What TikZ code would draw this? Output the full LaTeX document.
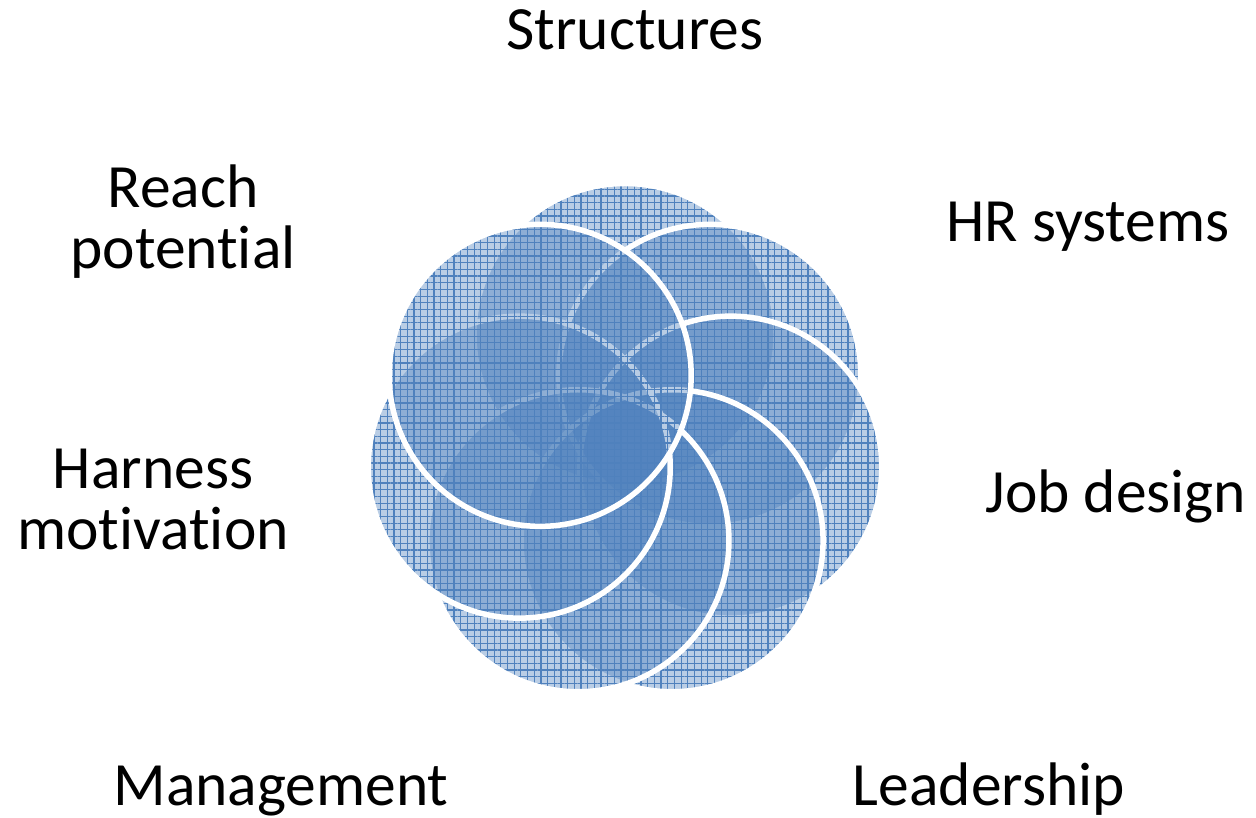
\documentclass[tikz,border=0pt]{standalone}
\usepackage{fontspec}
\setmainfont[Ligatures={NoCommon}]{Carlito}
\usetikzlibrary{calc}
\usetikzlibrary{patterns.meta}
\definecolor{petalblue}{RGB}{79,129,189}

\begin{document}
\begin{tikzpicture}[
    petal/.style={circle, minimum size=3.02cm, inner sep=0pt,
        draw=white, line width=0.055cm,
        preaction={fill=petalblue, fill opacity=0.4},
        pattern={Hatch[angle=0,distance=1.9pt,line width=0.35pt]},
        pattern color=petalblue, fill opacity=0.45},
    petaltext/.style={font=\fontsize{17.5pt}{17.6pt}\selectfont, align=center, anchor=base}
]
    \useasboundingbox (0,0) rectangle (12.56,8.17);

    % Centre of the flower
    \coordinate (hub) at (6.25,3.74);

    % Seven overlapping circles, clockwise from the top
    \foreach \ang/\name in {90/structures, 38.57/hr, -12.86/job, -64.29/lead,
                            -115.71/manage, -167.14/harness, 141.43/reach} {
        \node[petal] (c-\name) at ($(hub)+(\ang:1.085)$) {};
    }

    % Labels round the flower
    \node[petaltext] (t-structures) at (6.35,7.67) {Structures};
    \node[petaltext] (t-hr) at (10.88,5.75) {HR systems};
    \node[petaltext] (t-job) at (11.16,3.04) {Job design};
    \node[petaltext] (t-lead) at (9.89,0.12) {Leadership};
    \node[petaltext] (t-manage) at (2.81,0.12) {Management};
    \node[petaltext] (t-harness) at (1.53,2.67) {Harness\\motivation};
    \node[petaltext] (t-reach) at (1.83,5.48) {Reach\\potential};
\end{tikzpicture}
\end{document}
